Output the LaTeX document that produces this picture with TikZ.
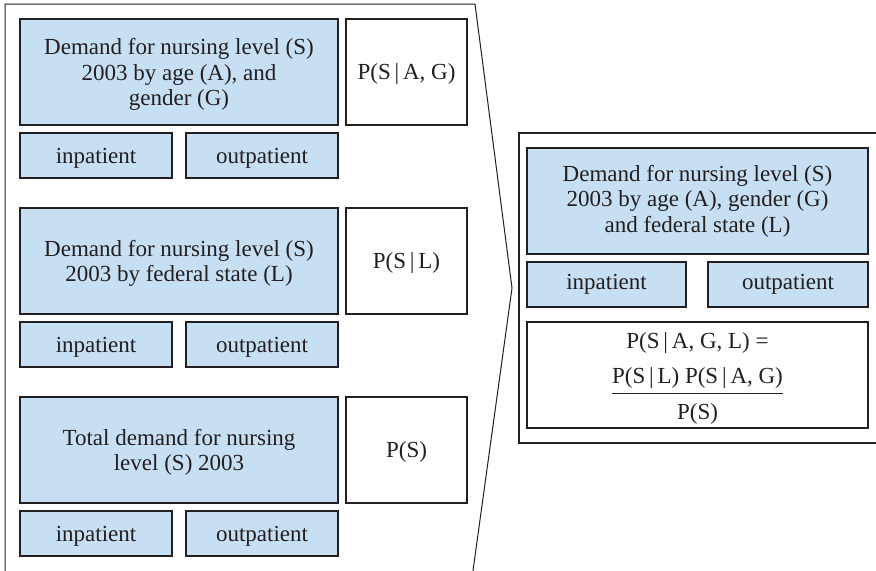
\documentclass[tikz,border=0pt]{standalone}
\usepackage{fontspec}
\setmainfont{Liberation Serif}
\usepackage{amsmath}
\usepackage{xcolor}
\usepackage{tikz}
\definecolor{ink}{HTML}{231F20}
\definecolor{paleblue}{HTML}{C7DFF2}
\tikzset{
  frame/.style={draw=ink, line width=0.5pt},
  box/.style={draw=ink, line width=0.65pt, align=center, text=ink, inner sep=0pt,
    font=\fontsize{11.5}{12.75}\selectfont},
  demand/.style={box, fill=paleblue, minimum height=53pt},
  prob/.style={box, fill=white, minimum height=53pt},
  care/.style={box, fill=paleblue, minimum height=22.5pt},
  low/.style={text depth=0pt}
}

\begin{document}
\begin{tikzpicture}[x=0.5pt, y=-0.5pt]
  \useasboundingbox (0,0) rectangle (876,570);

  \coordinate (A) at (5,585);
  \coordinate (B) at (5,4);
  \coordinate (C) at (475,4);
  \coordinate (T) at (512,288);
  \coordinate (E) at (471,585);
  \draw[frame] (A)--(B)--(C)--(T)--(E);

  % left side
  \node[demand, low, minimum width=159pt] (D1) at (179,72) {Demand for nursing level (S)\\2003 by age (A), and\\gender (G)};
  \node[prob, low, minimum width=60.5pt] (P1) at (406.5,72) {P(S\,|\,A, G)};
  \node[care, low, minimum width=76pt] (I1) at (96,155.5) {inpatient};
  \node[care, low, minimum width=76pt] (O1) at (262,155.5) {outpatient};

  \node[demand, low, minimum width=159pt] (D2) at (179,261) {Demand for nursing level (S)\\2003 by federal state (L)};
  \node[prob, low, minimum width=60.5pt] (P2) at (406.5,261) {P(S\,|\,L)};
  \node[care, low, minimum width=76pt] (I2) at (96,344.5) {inpatient};
  \node[care, low, minimum width=76pt] (O2) at (262,344.5) {outpatient};

  \node[demand, low, minimum width=159pt] (D3) at (179,450) {Total demand for nursing\\level (S) 2003};
  \node[prob, low, minimum width=60.5pt] (P3) at (406.5,450) {P(S)};
  \node[care, low, minimum width=76pt] (I3) at (96,533.5) {inpatient};
  \node[care, low, minimum width=76pt] (O3) at (262,533.5) {outpatient};

  % right side
  \draw[box] (519,133) rectangle (890,443);
  \node[demand, minimum width=170.5pt] (D4) at (697.5,201) {Demand for nursing level (S)\\2003 by age (A), gender (G)\\and federal state (L)};
  \node[care, minimum width=79.5pt] (I4) at (606.5,284.5) {inpatient};
  \node[care, minimum width=80pt] (O4) at (788,284.5) {outpatient};
  \node[prob, minimum width=170.5pt] (F) at (697.5,375) {\rule{0pt}{11.5pt}P(S\,|\,A, G, L) =\\[6pt]
    $\dfrac{\text{P(S\,|\,L) P(S\,|\,A, G)}}{\text{\rule{0pt}{11pt}P(S)}}$};
\end{tikzpicture}
\end{document}
